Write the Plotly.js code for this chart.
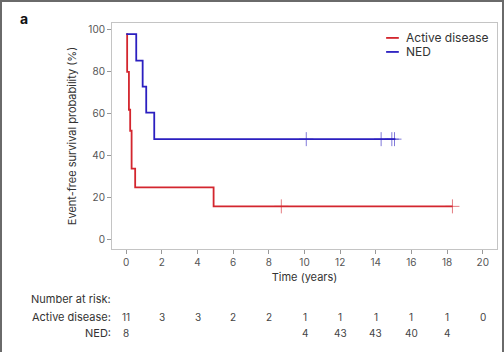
<!DOCTYPE html>
<html>
<head>
<meta charset="utf-8">
<script src="https://cdn.plot.ly/plotly-3.0.1.min.js"></script>
<style>
  html, body { margin: 0; padding: 0; background: #fff; }
  #wrap { position: relative; width: 504px; height: 352px; overflow: hidden; }
  #frame { position: absolute; left: 0; top: 0; width: 500px; height: 352px; border-left: 2px solid #6a6a6a; border-top: 2px solid #6a6a6a; border-right: 2px solid #6a6a6a; pointer-events: none; }
  #chart { position: absolute; left: 0; top: 0; width: 504px; height: 352px; }
</style>
</head>
<body>
<div id="wrap"><div id="chart"></div><div id="frame"></div></div>
<script>
// Kaplan-Meier step data
const activeTime = [0, 0.05, 0.15, 0.22, 0.3, 0.5, 4.9, 18.3];
const activeSurv = [98, 80, 62, 52, 34, 25, 16, 16];
const activeCensorTime = [8.7, 18.3];
const activeCensorSurv = [16, 16];

const nedTime = [0, 0.56, 0.92, 1.12, 1.57, 15.1];
const nedSurv = [98, 85.4, 73, 60.6, 48, 48];
const nedCensorTime = [10.1, 14.3, 14.9, 15.05];
const nedCensorSurv = [48, 48, 48, 48];

// Number at risk table
const riskTimes = [0, 2, 4, 6, 8, 10, 12, 14, 16, 18, 20];
const riskActive = ["11", "3", "3", "2", "2", "1", "1", "1", "1", "1", "0"];
const riskNedTimes = [0, 10, 12, 14, 16, 18];
const riskNed = ["8", "4", "43", "43", "40", "4"];

const seriesNames = ["Active disease", "NED"];
const red = "#d3262e";
const blue = "#2b1fc0";

const traces = [
  { x: activeTime, y: activeSurv, mode: "lines", line: { shape: "hv", color: red, width: 1.8 }, name: seriesNames[0], showlegend: false, hoverinfo: "skip" },
  { x: nedTime, y: nedSurv, mode: "lines", line: { shape: "hv", color: blue, width: 1.8 }, name: seriesNames[1], showlegend: false, hoverinfo: "skip" },
  { x: activeCensorTime, y: activeCensorSurv, mode: "markers", marker: { symbol: "cross-thin", size: 10, line: { color: "rgba(211,38,46,0.6)", width: 1 } }, showlegend: false, hoverinfo: "skip" },
  { x: nedCensorTime, y: nedCensorSurv, mode: "markers", marker: { symbol: "cross-thin", size: 10, line: { color: "rgba(43,31,192,0.6)", width: 1 } }, showlegend: false, hoverinfo: "skip" }
];

const font = "Inter, 'Noto Sans', sans-serif";
const annotations = [];
annotations.push({ text: "<b>a</b>", xref: "paper", yref: "paper", x: -0.245, y: 1.02, xanchor: "left", yanchor: "middle", showarrow: false, font: { family: font, size: 14, color: "#111" } });
annotations.push({ text: "Number at risk:", xref: "paper", yref: "paper", x: 0.003, y: -0.221, xanchor: "right", yanchor: "middle", showarrow: false, font: { family: font, size: 11, color: "#333" } });
annotations.push({ text: "Active disease:", xref: "paper", yref: "paper", x: 0.003, y: -0.301, xanchor: "right", yanchor: "middle", showarrow: false, font: { family: font, size: 11, color: "#333" } });
annotations.push({ text: "NED:", xref: "paper", yref: "paper", x: 0.003, y: -0.372, xanchor: "right", yanchor: "middle", showarrow: false, font: { family: font, size: 11, color: "#333" } });
riskTimes.forEach((t, i) => {
  annotations.push({ text: riskActive[i], xref: "x", yref: "paper", x: t, y: -0.301, xanchor: "center", yanchor: "middle", showarrow: false, font: { family: font, size: 10, color: "#444" } });
});
riskNedTimes.forEach((t, i) => {
  annotations.push({ text: riskNed[i], xref: "x", yref: "paper", x: t, y: -0.372, xanchor: "center", yanchor: "middle", showarrow: false, font: { family: font, size: 10, color: "#444" } });
});
// legend entries
const legendY = [0.934, 0.872];
const legendColors = [red, blue];
const shapes = [];
seriesNames.forEach((n, i) => {
  annotations.push({ text: n, xref: "paper", yref: "paper", x: 0.758, y: legendY[i], xanchor: "left", yanchor: "middle", showarrow: false, font: { family: font, size: 12, color: "#333" } });
  shapes.push({ type: "line", xref: "paper", yref: "paper", x0: 0.712, x1: 0.745, y0: legendY[i], y1: legendY[i], line: { color: legendColors[i], width: 1.8 } });
});

const layout = {
  width: 504, height: 352,
  margin: { l: 112, r: 7, t: 23, b: 103 },
  paper_bgcolor: "#fff", plot_bgcolor: "#fff",
  showlegend: false,
  xaxis: {
    range: [-0.8, 20.8], tickvals: riskTimes, ticks: "outside", ticklen: 4, tickcolor: "#999",
    showline: true, mirror: true, linecolor: "#c4c4c4", linewidth: 1, showgrid: false, zeroline: false,
    tickfont: { family: font, size: 10, color: "#555" },
    title: { text: "Time (years)", font: { family: font, size: 11, color: "#333" }, standoff: 6 }
  },
  yaxis: {
    range: [-4.3, 103.3], tickvals: [0, 20, 40, 60, 80, 100], ticks: "outside", ticklen: 4, tickcolor: "#999",
    showline: true, mirror: true, linecolor: "#c4c4c4", linewidth: 1, showgrid: false, zeroline: false,
    tickfont: { family: font, size: 10, color: "#555" },
    title: { text: "Event-free survival probability (%)", font: { family: font, size: 11, color: "#333" }, standoff: 9 }
  },
  annotations: annotations,
  shapes: shapes
};

Plotly.newPlot("chart", traces, layout, { staticPlot: true, displayModeBar: false });
</script>
</body>
</html>
